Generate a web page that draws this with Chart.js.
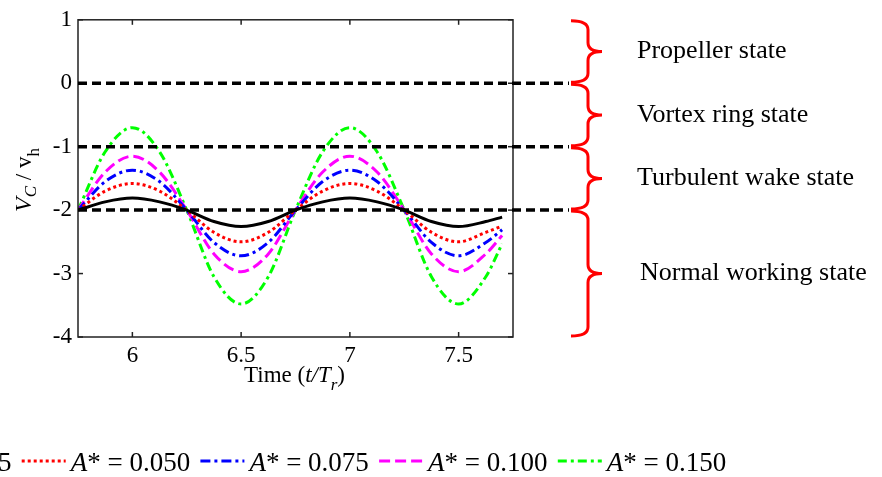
<!DOCTYPE html>
<html>
<head>
<meta charset="utf-8">
<script src="https://cdn.jsdelivr.net/npm/chart.js@4.4.0/dist/chart.umd.min.js"></script>
<style>
  html, body { margin: 0; padding: 0; background: #fff; }
</style>
</head>
<body>
<canvas id="myChart" width="882" height="477"></canvas>
<script>
// time samples (t/Tr) and V_C / v_h for each amplitude
const times   = [5.75, 5.875, 6, 6.125, 6.25, 6.375, 6.5, 6.625, 6.75, 6.875, 7, 7.125, 7.25, 7.375, 7.5, 7.625, 7.70];
const amp025  = [-2.00, -1.87, -1.81, -1.87, -2.00, -2.18, -2.26, -2.18, -2.00, -1.87, -1.81, -1.87, -2.00, -2.18, -2.26, -2.18, -2.11];
const amp050  = [-2.00, -1.70, -1.58, -1.70, -2.00, -2.35, -2.50, -2.35, -2.00, -1.70, -1.58, -1.70, -2.00, -2.35, -2.50, -2.35, -2.25];
const amp075  = [-2.00, -1.55, -1.37, -1.55, -2.00, -2.51, -2.72, -2.51, -2.00, -1.55, -1.37, -1.55, -2.00, -2.51, -2.72, -2.51, -2.31];
const amp100  = [-2.00, -1.40, -1.15, -1.40, -2.00, -2.69, -2.97, -2.69, -2.00, -1.40, -1.15, -1.40, -2.00, -2.69, -2.97, -2.69, -2.40];
const amp150  = [-2.00, -1.08, -0.70, -1.08, -2.00, -3.05, -3.48, -3.05, -2.00, -1.08, -0.70, -1.08, -2.00, -3.05, -3.48, -3.05, -2.53];
const ampLabels = ['0.025', '0.050', '0.075', '0.100', '0.150'];

const xTicks = [6, 6.5, 7, 7.5];
const yTicks = [-4, -3, -2, -1, 0, 1];

// state boundaries and the ranges each brace covers
const stateBounds = [0, -1, -2];
const stateNames  = ['Propeller state', 'Vortex ring state', 'Turbulent wake state', 'Normal working state'];
const stateTop    = [1, 0, -1, -2];
const stateBottom = [0, -1, -2, -4];

const serif = '"Liberation Serif", "Times New Roman", serif';

function series(vals) {
    return times.map((t, i) => ({ x: t, y: vals[i] }));
}

const data = {
    datasets: [
        { label: ampLabels[0], data: series(amp025), borderColor: '#000000', borderWidth: 3, borderDash: [] },
        { label: ampLabels[1], data: series(amp050), borderColor: '#ff0000', borderWidth: 3, borderDash: [3, 3] },
        { label: ampLabels[2], data: series(amp075), borderColor: '#0000ff', borderWidth: 3, borderDash: [10, 4, 3, 4] },
        { label: ampLabels[3], data: series(amp100), borderColor: '#ff00ff', borderWidth: 3, borderDash: [11, 5] },
        { label: ampLabels[4], data: series(amp150), borderColor: '#00ff00', borderWidth: 3, borderDash: [9, 4, 3, 4] }
    ]
};

function drawLine(ctx, x1, y1, x2, y2) {
    ctx.beginPath();
    ctx.moveTo(x1, y1);
    ctx.lineTo(x2, y2);
    ctx.stroke();
}

// writes a run of [text, fontstring, dy] pieces one after another
function drawRuns(ctx, x, y, runs) {
    runs.forEach(r => {
        ctx.font = r[1];
        ctx.fillText(r[0], x, y + r[2]);
        x += ctx.measureText(r[0]).width;
    });
    return x;
}

const extras = {
    id: 'extras',
    afterDatasetsDraw(chart) {
        const ctx = chart.ctx;
        const a = chart.chartArea;
        const x = chart.scales.x;
        const y = chart.scales.y;
        ctx.save();

        // box + inward ticks
        ctx.strokeStyle = '#222';
        ctx.lineWidth = 1.5;
        ctx.setLineDash([]);
        ctx.strokeRect(a.left, a.top, a.right - a.left, a.bottom - a.top);
        xTicks.forEach(v => {
            const px = x.getPixelForValue(v);
            drawLine(ctx, px, a.bottom, px, a.bottom - 5);
            drawLine(ctx, px, a.top, px, a.top + 5);
        });
        yTicks.forEach(v => {
            const py = y.getPixelForValue(v);
            drawLine(ctx, a.left, py, a.left + 5, py);
            drawLine(ctx, a.right, py, a.right - 5, py);
        });

        // state boundaries
        ctx.strokeStyle = '#000';
        ctx.lineWidth = 3.5;
        ctx.setLineDash([9, 5]);
        stateBounds.forEach(v => {
            const py = y.getPixelForValue(v);
            drawLine(ctx, a.left, py, 569, py);
        });
        ctx.setLineDash([]);

        // red braces
        ctx.strokeStyle = '#ff0000';
        ctx.lineWidth = 3;
        const bx0 = 571, bx1 = 588, bx2 = 602, r = 9;
        stateTop.forEach((top, i) => {
            const y1 = y.getPixelForValue(top) + 1;
            const y2 = y.getPixelForValue(stateBottom[i]) - 1;
            const ym = (y1 + y2) / 2;
            ctx.beginPath();
            ctx.moveTo(bx0, y1);
            ctx.quadraticCurveTo(bx1, y1, bx1, y1 + r);
            ctx.lineTo(bx1, ym - r);
            ctx.quadraticCurveTo(bx1, ym, bx2, ym);
            ctx.quadraticCurveTo(bx1, ym, bx1, ym + r);
            ctx.lineTo(bx1, y2 - r);
            ctx.quadraticCurveTo(bx1, y2, bx0, y2);
            ctx.stroke();
        });

        // state names
        ctx.fillStyle = '#000';
        ctx.textBaseline = 'middle';
        ctx.textAlign = 'left';
        ctx.font = '26px ' + serif;
        stateNames.forEach((name, i) => {
            const ym = (y.getPixelForValue(stateTop[i]) + y.getPixelForValue(stateBottom[i])) / 2;
            ctx.fillText(name, i === 3 ? 640 : 637, ym);
        });

        // axis titles
        ctx.textBaseline = 'alphabetic';
        drawRuns(ctx, 244, 382, [
            ['Time (', '23px ' + serif, 0],
            ['t/T', 'italic 23px ' + serif, 0],
            ['r', 'italic 17px ' + serif, 8],
            [')', '23px ' + serif, 0]
        ]);

        ctx.save();
        ctx.translate(31, 212);
        ctx.rotate(-Math.PI / 2);
        drawRuns(ctx, 0, 0, [
            ['V', 'italic 24px ' + serif, 0],
            ['C', 'italic 17px ' + serif, 5],
            [' / ', '23px ' + serif, 0],
            ['v', '23px ' + serif, 0],
            ['h', '17px ' + serif, 8]
        ]);
        ctx.restore();

        // legend row (it starts off the left edge, like the original)
        const pitch = 178.7;
        chart.data.datasets.forEach((ds, i) => {
            const lx = -157 + i * pitch;
            ctx.strokeStyle = ds.borderColor;
            ctx.lineWidth = 3;
            ctx.setLineDash(ds.borderDash);
            drawLine(ctx, lx, 461, lx + 44, 461);
            ctx.setLineDash([]);
            ctx.fillStyle = '#000';
            drawRuns(ctx, lx + 49, 471, [
                ['A', 'italic 27px ' + serif, 0],
                ['* = ' + ds.label, '27px ' + serif, 0]
            ]);
        });

        ctx.restore();
    }
};

const config = {
    type: 'line',
    data: data,
    options: {
        responsive: false,
        animation: false,
        devicePixelRatio: 1,
        layout: { padding: { top: 16, right: 369, left: 0, bottom: 0 } },
        elements: {
            line: { tension: 0, cubicInterpolationMode: 'monotone', borderCapStyle: 'butt' },
            point: { radius: 0 }
        },
        scales: {
            x: {
                type: 'linear',
                min: 5.75,
                max: 7.75,
                afterBuildTicks: s => { s.ticks = xTicks.map(v => ({ value: v })); },
                afterFit: s => { s.height = 140; },
                grid: { display: false, drawTicks: false },
                border: { display: false },
                ticks: { color: '#000', padding: 5, font: { family: serif, size: 23 }, callback: v => String(v) }
            },
            y: {
                type: 'linear',
                min: -4,
                max: 1,
                afterBuildTicks: s => { s.ticks = yTicks.map(v => ({ value: v })); },
                afterFit: s => { s.width = 78; },
                grid: { display: false, drawTicks: false },
                border: { display: false },
                ticks: { color: '#000', padding: 6, font: { family: serif, size: 23 }, callback: v => String(v) }
            }
        },
        plugins: {
            legend: { display: false },
            tooltip: { enabled: false }
        }
    },
    plugins: [extras]
};

let myChart = new Chart(document.getElementById('myChart'), config);
</script>
</body>
</html>
